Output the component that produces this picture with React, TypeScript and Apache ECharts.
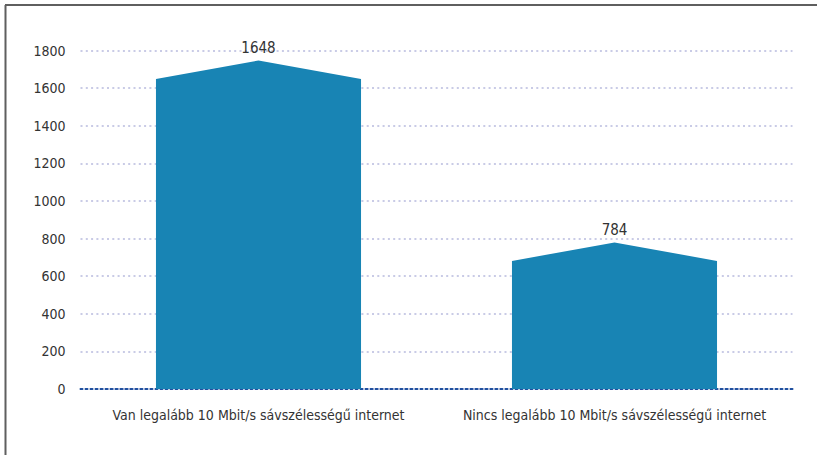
import React, { useEffect, useRef } from "react";
import * as echarts from "echarts";

const categories = [
  "Van legalább 10 Mbit/s sávszélességű internet",
  "Nincs legalább 10 Mbit/s sávszélességű internet",
];
const values = [1648, 784];
const yTicks = { min: 0, max: 1800, interval: 200 };

const FONT = "'DejaVu Sans Condensed', 'Liberation Sans Narrow', sans-serif";
const BAR_COLOR = "#1884b4";

export default function App() {
  const ref = useRef<HTMLDivElement>(null);
  useEffect(() => {
    document.body.style.margin = "0";
    const chart = echarts.init(ref.current!, undefined, { renderer: "svg" });
    chart.setOption({
      animation: false,
      backgroundColor: "#ffffff",
      textStyle: { fontFamily: FONT },
      graphic: [
        { type: "line", shape: { x1: 5.5, y1: 5, x2: 5.5, y2: 455 }, style: { stroke: "#5f5f5f", lineWidth: 2 } },
        { type: "line", shape: { x1: 5, y1: 5, x2: 817, y2: 5 }, style: { stroke: "#5f5f5f", lineWidth: 2 } },
      ],
      grid: { left: 80.5, right: 24.5, top: 50.6, bottom: 66 },
      xAxis: {
        type: "category",
        data: categories,
        axisTick: { show: false },
        axisLine: { show: true, lineStyle: { color: "#1f4f9f", width: 2, type: [2, 3] } },
        axisLabel: { color: "#333333", fontSize: 14, fontFamily: FONT, margin: 19, interval: 0 },
      },
      yAxis: [
        {
          type: "value",
          min: yTicks.min,
          max: yTicks.max,
          interval: yTicks.interval,
          axisLine: { show: false },
          axisTick: { show: false },
          axisLabel: {
            color: "#333333",
            fontSize: 14,
            fontFamily: FONT,
            margin: 15,
            formatter: (v: number) => String(v),
          },
          splitLine: { show: true, lineStyle: { color: "#c9cbe6", width: 2, type: [2, 3.3] } },
        },
        {
          type: "value",
          min: 88,
          max: 1695,
          show: false,
          splitLine: { show: false },
        },
      ],
      series: [
        {
          type: "custom",
          yAxisIndex: 1,
          data: values.map((v, i) => [i, v]),
          renderItem: (params: any, api: any) => {
            const idx = api.value(0);
            const val = api.value(1);
            const peak = api.coord([idx, val]);
            const base = api.coord([idx, 88]);
            const w = api.size([1, 0])[0] * 0.576;
            const left = peak[0] - w / 2;
            const right = peak[0] + w / 2;
            const shoulder = peak[1] + 18.5;
            return {
              type: "group",
              children: [
                {
                  type: "polygon",
                  shape: {
                    points: [
                      [left, base[1]],
                      [left, shoulder],
                      [peak[0], peak[1]],
                      [right, shoulder],
                      [right, base[1]],
                    ],
                  },
                  style: { fill: BAR_COLOR },
                },
                {
                  type: "text",
                  x: peak[0],
                  y: peak[1] - 12,
                  style: {
                    text: String(val),
                    fill: "#333333",
                    font: `15px ${FONT}`,
                    align: "center",
                    verticalAlign: "middle",
                  },
                },
              ],
            };
          },
        },
      ],
    });
    return () => chart.dispose();
  }, []);
  return <div ref={ref} style={{ width: 817, height: 455 }} />;
}
